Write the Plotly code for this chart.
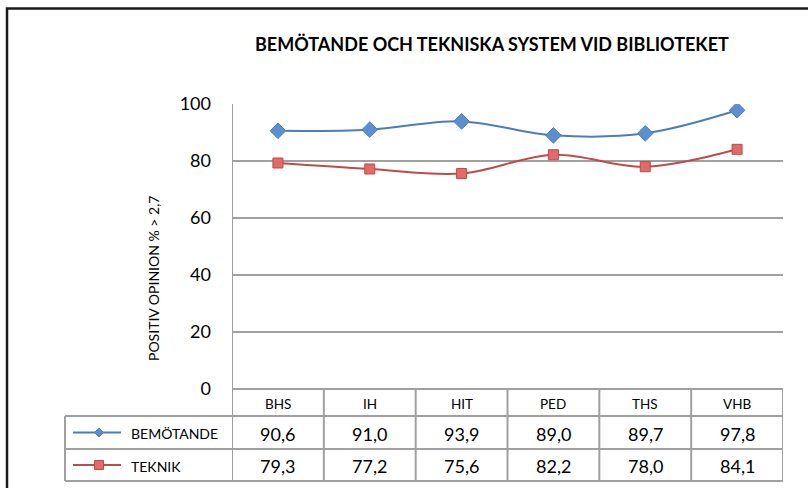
import plotly.graph_objects as go

categories = ["BHS", "IH", "HIT", "PED", "THS", "VHB"]
bemotande = [90.6, 91.0, 93.9, 89.0, 89.7, 97.8]
teknik = [79.3, 77.2, 75.6, 82.2, 78.0, 84.1]
series_names = ["BEMÖTANDE", "TEKNIK"]
title_text = "BEMÖTANDE OCH TEKNISKA SYSTEM VID BIBLIOTEKET"
y_title = "POSITIV OPINION % > 2,7"
y_ticks = [0, 20, 40, 60, 80, 100]

W, H = 808, 488
FONT = "Lato"
BLUE_LINE = "#4A7EBB"
BLUE_FILL = "#5B8FD2"
RED_LINE = "#BE4B48"
RED_FILL = "#E26B67"
GRID = "#A0A0A0"

def px(x):
    return x / W

def py(y):
    return 1 - y / H

x_idx = list(range(len(categories)))

fig = go.Figure()
fig.add_trace(go.Scatter(
    x=x_idx, y=bemotande, mode="lines+markers", name=series_names[0],
    line=dict(color=BLUE_LINE, width=2, shape="spline", smoothing=1),
    marker=dict(symbol="diamond", size=12, color=BLUE_FILL, line=dict(color=BLUE_LINE, width=1)),
    showlegend=False))
fig.add_trace(go.Scatter(
    x=x_idx, y=teknik, mode="lines+markers", name=series_names[1],
    line=dict(color=RED_LINE, width=2, shape="spline", smoothing=1),
    marker=dict(symbol="square", size=10, color=RED_FILL, line=dict(color=RED_LINE, width=1)),
    showlegend=False))

top_px, zero_px = 104, 389
hdr_bot, row1_bot, row2_bot = 416, 449, 481
left_px, right_px, tbl_left = 232, 783, 65

shapes = []
shapes.append(dict(type="rect", xref="paper", yref="paper", x0=px(7), x1=1.1, y0=-0.1, y1=py(8.5),
                   line=dict(color="#1a1a1a", width=2.5), fillcolor="rgba(0,0,0,0)", layer="above"))
for yy, x0 in [(zero_px, left_px), (hdr_bot, tbl_left), (row1_bot, tbl_left), (row2_bot, tbl_left)]:
    shapes.append(dict(type="line", xref="paper", yref="paper", x0=px(x0), x1=px(right_px), y0=py(yy), y1=py(yy),
                       line=dict(color=GRID, width=2)))
shapes.append(dict(type="line", xref="paper", yref="paper", x0=px(tbl_left), x1=px(tbl_left), y0=py(hdr_bot), y1=py(row2_bot),
                   line=dict(color=GRID, width=2)))
for k in range(len(categories) + 1):
    y_start = top_px if k == 0 else zero_px
    shapes.append(dict(type="line", xref="x", yref="paper", x0=k - 0.5, x1=k - 0.5, y0=py(y_start), y1=py(row2_bot),
                       line=dict(color=GRID, width=2)))

key_y = [(hdr_bot + row1_bot) / 2, (row1_bot + row2_bot) / 2]
for yy, col in zip(key_y, [BLUE_LINE, RED_LINE]):
    shapes.append(dict(type="line", xref="paper", yref="paper", x0=px(73), x1=px(121), y0=py(yy), y1=py(yy),
                       line=dict(color=col, width=2)))
cx, cy = 99, key_y[0]
d = 4.5
shapes.append(dict(type="path", xref="paper", yref="paper",
                   path=f"M {px(cx-d)},{py(cy)} L {px(cx)},{py(cy-d)} L {px(cx+d)},{py(cy)} L {px(cx)},{py(cy+d)} Z",
                   fillcolor=BLUE_FILL, line=dict(color=BLUE_LINE, width=1)))
cx, cy = 99, key_y[1]
s = 4.5
shapes.append(dict(type="rect", xref="paper", yref="paper", x0=px(cx - s), x1=px(cx + s), y0=py(cy + s), y1=py(cy - s),
                   fillcolor=RED_FILL, line=dict(color=RED_LINE, width=1)))

annotations = []
annotations.append(dict(text=f"<b>{title_text}</b>", xref="paper", yref="paper", x=px(492), y=py(44),
                        showarrow=False, font=dict(family=FONT, size=18, color="#000"), xanchor="center", yanchor="middle"))
annotations.append(dict(text=y_title, xref="paper", yref="paper", x=px(153), y=py(279), textangle=-90,
                        showarrow=False, font=dict(family=FONT, size=14, color="#000"), xanchor="center", yanchor="middle"))
hdr_c = (zero_px + hdr_bot) / 2
for i, c in enumerate(categories):
    annotations.append(dict(text=c, xref="x", yref="paper", x=i, y=py(hdr_c + 1), showarrow=False,
                            font=dict(family=FONT, size=13.5, color="#000"), xanchor="center", yanchor="middle"))
for vals, yy in [(bemotande, key_y[0]), (teknik, key_y[1])]:
    for i, v in enumerate(vals):
        annotations.append(dict(text=f"{v:.1f}".replace(".", ","), xref="x", yref="paper", x=i, y=py(yy + 1),
                                showarrow=False, font=dict(family=FONT, size=18, color="#000"),
                                xanchor="center", yanchor="middle"))
for name, yy in zip(series_names, key_y):
    annotations.append(dict(text=name, xref="paper", yref="paper", x=px(129), y=py(yy + 1), showarrow=False,
                            font=dict(family=FONT, size=14, color="#000"), xanchor="left", yanchor="middle"))

fig.update_layout(
    width=W, height=H, margin=dict(l=0, r=0, t=0, b=0, autoexpand=False),
    paper_bgcolor="white", plot_bgcolor="white",
    xaxis=dict(domain=[px(left_px), px(right_px)], range=[-0.5, len(categories) - 0.5], automargin=False,
               showticklabels=False, showgrid=False, zeroline=False, showline=False, fixedrange=True),
    yaxis=dict(domain=[py(zero_px), py(top_px)], range=[0, 100], tickvals=y_ticks, automargin=False,
               showgrid=True, gridcolor=GRID, gridwidth=2, zeroline=False, showline=False,
               ticks="", ticklabelstandoff=20, fixedrange=True,
               tickfont=dict(family=FONT, size=18, color="#000")),
    shapes=shapes, annotations=annotations,
)

fig.write_html("out.html", config={"displayModeBar": False},
               post_script="document.body.style.margin='0';document.body.style.overflow='hidden';")
